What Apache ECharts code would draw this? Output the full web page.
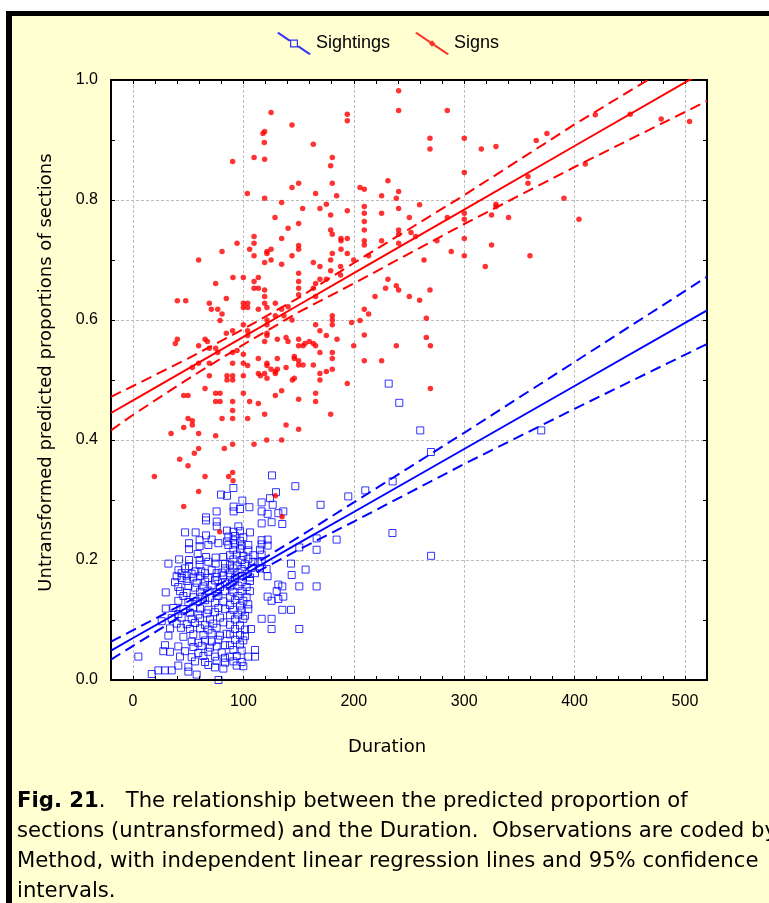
<!DOCTYPE html>
<html>
<head>
<meta charset="utf-8">
<title>Predicted proportion of sections vs Duration</title>
<script src="https://cdn.jsdelivr.net/npm/echarts/dist/echarts.min.js"></script>
<style>
  html, body { margin: 0; padding: 0; background: #ffffff; overflow: hidden; }
  #panel {
    position: absolute; left: 6px; top: 11px; width: 820px; height: 960px;
    box-sizing: border-box; border-left: 6px solid #000; border-top: 5px solid #000;
    background: #FFFFD2;
  }
  #chart { position: absolute; left: 0; top: 0; width: 769px; height: 903px; }
</style>
</head>
<body>
<div id="panel"></div>
<div id="chart"></div>
<script>
// ---- Observations: [Duration, untransformed predicted proportion] ----
const sightingsPoints = [
  [39.5,0.173],[44.0,0.170],[48.6,0.174],[54.6,0.171],[60.7,0.173],[68.2,0.170],[75.7,0.172],[81.8,0.174],
  [38.0,0.163],[48.6,0.165],[57.6,0.162],[65.2,0.164],[74.2,0.166],[83.3,0.163],
  [41.0,0.155],[50.1,0.157],[56.1,0.154],[63.7,0.156],[71.2,0.158],[78.8,0.155],
  [29.6,0.146],[42.5,0.148],[48.6,0.145],[60.7,0.147],[68.2,0.149],[75.7,0.146],[83.3,0.148],
  [45.6,0.140],[54.6,0.138],[62.2,0.139],[69.7,0.137],[77.3,0.140],
  [41.0,0.132],[50.1,0.130],[57.6,0.131],[65.2,0.133],[74.2,0.129],[81.8,0.131],
  [29.6,0.119],[36.5,0.120],[45.6,0.118],[54.6,0.121],[60.7,0.119],[68.2,0.117],[77.3,0.120],[83.3,0.118],
  [41.0,0.110],[51.6,0.112],[59.1,0.109],[66.7,0.111],[74.2,0.113],
  [25.9,0.098],[35.0,0.103],[44.0,0.104],[53.1,0.102],[60.7,0.103],[69.7,0.101],[78.8,0.104],
  [39.5,0.094],[48.6,0.093],[56.1,0.095],[65.2,0.092],[72.7,0.094],[81.8,0.096],
  [33.5,0.086],[43.4,0.087],[51.6,0.085],[60.7,0.086],[68.2,0.084],[75.7,0.087],
  [32.0,0.074],[45.6,0.072],[54.6,0.076],[63.7,0.075],[71.2,0.078],[78.8,0.074],[84.8,0.077],
  [53.1,0.064],[59.1,0.062],[65.2,0.066],[71.2,0.064],[77.3,0.067],
  [28.9,0.058],[41.0,0.056],[54.6,0.055],[62.2,0.057],[69.7,0.054],[75.7,0.056],[83.3,0.058],
  [27.4,0.048],[33.5,0.047],[47.1,0.048],[59.1,0.045],[68.2,0.047],[80.3,0.046],
  [4.8,0.039],[42.5,0.039],[53.1,0.038],[63.7,0.040],[74.2,0.039],[83.3,0.037],
  [56.1,0.031],[65.2,0.030],[75.7,0.032],[83.3,0.029],
  [41.0,0.024],[50.1,0.022],[68.2,0.025],[74.2,0.021],[81.8,0.019],
  [16.9,0.010],[22.9,0.016],[28.9,0.016],[35.0,0.016],[50.1,0.014],
  [57.6,0.009],[77.4,0.000],
  [87.8,0.172],[92.4,0.170],[98.4,0.173],[105.9,0.171],[121.9,0.173],[143.7,0.175],
  [90.9,0.164],[98.4,0.163],[105.9,0.165],[131.6,0.159],
  [87.8,0.156],[95.4,0.157],[102.9,0.155],[135.2,0.156],[150.6,0.156],[166.3,0.156],
  [90.9,0.147],[98.4,0.148],[105.9,0.148],[121.9,0.139],[130.1,0.148],
  [87.8,0.139],[95.4,0.140],[102.9,0.138],[136.1,0.139],
  [92.4,0.133],[99.9,0.132],[125.5,0.132],[131.6,0.135],
  [87.8,0.125],[96.9,0.124],[104.4,0.126],
  [90.9,0.117],[98.4,0.116],[104.4,0.118],[135.2,0.117],[143.1,0.117],
  [87.8,0.108],[95.4,0.109],[101.4,0.107],
  [92.4,0.101],[99.9,0.102],[116.5,0.102],[125.5,0.102],
  [87.8,0.092],[96.9,0.091],
  [92.4,0.085],[101.4,0.084],[106.9,0.085],[125.5,0.085],[150.6,0.085],
  [87.8,0.076],[96.9,0.075],[101.4,0.073],
  [92.4,0.067],[99.9,0.066],
  [87.8,0.058],[96.9,0.059],
  [90.9,0.050],[98.4,0.049],[110.5,0.050],
  [87.8,0.039],[93.9,0.040],[104.4,0.039],[110.5,0.039],
  [90.9,0.031],[98.4,0.030],
  [93.9,0.024],[99.9,0.023],
  [79.7,0.309],[85.1,0.307],[75.7,0.281],[66.1,0.271],[66.1,0.266],[75.8,0.264],[75.8,0.256],[85.1,0.249],
  [47.1,0.246],[56.7,0.246],[66.1,0.241],[60.3,0.233],[71.2,0.234],[50.7,0.228],[77.3,0.228],[60.3,0.223],
  [50.7,0.218],[68.2,0.225],[85.1,0.231],[32.0,0.194],[41.7,0.201],[50.7,0.200],[50.7,0.190],[58.5,0.210],
  [60.3,0.200],[60.3,0.192],[66.1,0.205],[68.2,0.197],[74.8,0.204],[74.8,0.194],[81.8,0.205],[83.3,0.194],
  [41.1,0.183],[47.1,0.186],[56.4,0.181],[61.8,0.181],[71.2,0.183],[75.7,0.178],[83.3,0.186],
  [44.0,0.178],[53.1,0.177],[65.2,0.178],[80.3,0.179],
  [90.9,0.247],[96.9,0.248],[105.9,0.246],
  [86.3,0.239],[92.4,0.240],[99.9,0.238],
  [90.9,0.233],[96.9,0.232],[116.5,0.233],[121.9,0.234],
  [86.3,0.225],[92.4,0.226],[98.4,0.224],[104.4,0.225],[116.5,0.226],[121.9,0.224],
  [90.9,0.217],[96.9,0.218],[104.4,0.216],[115.0,0.217],
  [87.8,0.208],[93.9,0.209],[99.9,0.207],[108.9,0.208],[116.5,0.209],
  [90.9,0.201],[98.4,0.200],[104.4,0.202],
  [108.9,0.197],[113.5,0.196],[116.5,0.198],
  [87.8,0.192],[93.9,0.191],[101.4,0.193],
  [90.9,0.186],[98.4,0.185],[107.4,0.187],[115.0,0.186],[121.0,0.185],
  [87.8,0.178],[95.4,0.179],[102.9,0.177],[110.5,0.178],
  [125.9,0.341],[147.0,0.323],[90.9,0.320],[129.5,0.313],[124.1,0.303],[99.0,0.299],[105.4,0.288],
  [116.5,0.296],[126.5,0.292],[91.1,0.289],[91.1,0.281],[96.9,0.285],[116.5,0.281],[121.9,0.277],
  [131.6,0.278],[136.1,0.281],[169.9,0.292],[116.5,0.261],[125.5,0.263],[135.2,0.260],[95.4,0.256],
  [166.3,0.236],[150.6,0.221],[166.3,0.217],[184.4,0.234],[143.1,0.194],[156.3,0.184],
  [231.6,0.494],[241.2,0.462],[260.2,0.416],[269.9,0.380],[369.8,0.416],[235.2,0.331],
  [210.4,0.316],[195.0,0.306],[235.0,0.245],[270.0,0.207]
];

const signsPoints = [
  [125.0,0.946],[144.0,0.925],[194.1,0.943],[194.1,0.932],[117.7,0.911],[119.2,0.914],[118.9,0.896],
  [163.3,0.893],[90.2,0.864],[109.6,0.871],[119.2,0.868],[180.5,0.871],[179.0,0.857],[144.0,0.821],
  [150.0,0.828],[180.5,0.828],[103.5,0.811],[119.2,0.803],[165.4,0.811],[184.4,0.807],[134.6,0.796],
  [153.6,0.786],[169.3,0.786],[175.1,0.793],[179.0,0.775],[194.1,0.782],[128.6,0.771],[140.4,0.753],
  [150.0,0.761],[179.0,0.750],[180.5,0.743],[109.6,0.739],[109.6,0.728],[134.6,0.736],[94.2,0.728],
  [188.4,0.736],[188.4,0.732],[194.1,0.736],[150.0,0.724],[150.0,0.718],[105.6,0.718],[121.3,0.714],
  [121.3,0.711],[125.0,0.718],[80.6,0.714],[109.6,0.707],[144.0,0.707],[180.5,0.711],[188.4,0.718],
  [194.1,0.711],[59.4,0.700],[119.2,0.696],[125.0,0.700],[134.6,0.693],[163.3,0.696],[169.3,0.689],
  [179.0,0.700],[90.5,0.671],[99.9,0.671],[113.5,0.671],[109.6,0.664],[150.0,0.678],[150.0,0.664],
  [165.4,0.661],[169.3,0.668],[175.1,0.668],[179.0,0.682],[74.8,0.661],[109.6,0.653],[113.5,0.653],
  [150.0,0.653],[163.3,0.653],[188.0,0.689],[188.0,0.675],
  [240.6,0.982],[240.6,0.949],[284.7,0.949],[269.0,0.903],[269.0,0.885],[300.1,0.903],[315.5,0.885],
  [328.8,0.889],[365.3,0.899],[375.0,0.911],[300.1,0.846],[230.9,0.832],[205.6,0.821],[209.5,0.818],
  [225.2,0.807],[240.6,0.814],[238.5,0.803],[209.5,0.789],[209.5,0.778],[209.5,0.764],[209.5,0.750],
  [209.5,0.732],[209.5,0.725],[240.6,0.786],[259.6,0.792],[225.2,0.778],[250.3,0.771],[284.7,0.771],
  [240.6,0.750],[240.6,0.743],[240.6,0.728],[251.8,0.746],[256.0,0.739],[275.3,0.732],[225.2,0.732],
  [300.1,0.778],[300.1,0.768],[300.1,0.736],[300.1,0.707],[328.8,0.793],[328.8,0.789],[324.8,0.775],
  [340.2,0.771],[324.8,0.725],[357.8,0.839],[357.8,0.828],[390.4,0.803],[404.0,0.768],[359.6,0.707],
  [319.1,0.689],[288.3,0.714],[263.6,0.700],[213.4,0.707],[199.9,0.700],[230.9,0.668],[228.8,0.653],
  [238.5,0.657],[240.6,0.650],[219.2,0.639],[250.3,0.639],[259.6,0.633],[269.0,0.650],
  [209.5,0.618],[213.4,0.610],[198.0,0.596],[205.6,0.599],[265.7,0.603],[209.5,0.575],[199.9,0.557],
  [238.5,0.557],[265.7,0.571],[269.4,0.557],[209.5,0.532],[225.2,0.532],[194.1,0.494],[269.4,0.486],
  [40.1,0.632],[47.7,0.632],[84.5,0.636],[69.1,0.628],[70.9,0.618],[76.7,0.618],[80.6,0.610],[78.8,0.599],
  [99.9,0.628],[103.8,0.628],[99.9,0.621],[103.8,0.621],[113.5,0.618],[119.2,0.639],[119.2,0.650],
  [119.2,0.628],[121.3,0.621],[128.9,0.628],[134.6,0.618],[140.4,0.622],[150.0,0.642],[165.4,0.639],
  [99.9,0.592],[121.3,0.600],[121.3,0.592],[128.9,0.607],[136.7,0.607],[144.0,0.600],[165.4,0.592],
  [180.5,0.607],[180.5,0.600],[180.5,0.592],[169.3,0.582],[175.1,0.574],[184.8,0.568],[84.5,0.578],
  [90.2,0.582],[103.8,0.582],[103.8,0.574],[121.3,0.578],[121.3,0.574],[119.2,0.564],[130.7,0.568],
  [138.6,0.571],[140.4,0.564],[150.0,0.568],[150.0,0.557],[154.0,0.557],[155.8,0.561],[159.7,0.564],
  [163.3,0.561],[165.4,0.557],[169.3,0.546],[180.5,0.546],[40.1,0.568],[38.3,0.561],[65.2,0.568],
  [67.3,0.564],[59.4,0.557],[69.1,0.553],[74.8,0.553],[76.7,0.546],[90.2,0.546],[94.2,0.549],
  [99.9,0.543],[59.4,0.528],[69.1,0.528],[53.7,0.521],[90.2,0.528],[99.9,0.528],[103.8,0.524],
  [113.5,0.536],[121.3,0.528],[121.3,0.524],[125.0,0.518],[128.9,0.511],[130.7,0.536],[130.7,0.518],
  [138.6,0.521],[146.1,0.539],[146.1,0.536],[150.0,0.532],[150.0,0.525],[154.0,0.525],[163.3,0.525],
  [169.3,0.511],[169.3,0.500],[175.1,0.514],[180.5,0.536],[180.5,0.518],[113.5,0.511],[115.4,0.507],
  [119.2,0.511],[121.3,0.503],[128.9,0.514],[69.1,0.507],[85.1,0.507],[85.1,0.500],[90.2,0.507],
  [90.2,0.500],[99.9,0.507],[144.3,0.500],[146.1,0.503],[65.2,0.486],[74.8,0.478],[78.8,0.478],
  [74.8,0.464],[78.8,0.464],[90.2,0.464],[90.2,0.449],[99.9,0.478],[105.6,0.464],[113.5,0.461],
  [128.9,0.474],[134.6,0.482],[150.0,0.468],[165.4,0.478],[165.4,0.464],[45.9,0.474],[49.8,0.474],
  [49.8,0.436],[53.7,0.432],[53.7,0.425],[45.9,0.421],[34.4,0.411],[59.4,0.411],[74.8,0.407],
  [80.6,0.436],[90.2,0.436],[103.8,0.436],[119.2,0.443],[138.6,0.425],[150.0,0.418],[179.0,0.443],
  [121.1,0.400],[134.6,0.400],[90.2,0.393],[109.6,0.393],[82.7,0.386],[59.4,0.386],[55.5,0.378],
  [42.2,0.368],[49.8,0.357],[19.3,0.339],[65.2,0.339],[90.2,0.346],[86.6,0.339],[59.4,0.314],
  [128.9,0.307],[45.9,0.289],[135.0,0.272],[78.5,0.247],[90.6,0.332],
  [418.8,0.942],[450.4,0.943],[478.5,0.935],[504.2,0.931],[409.7,0.860]
];

// ---- Regression lines and 95% confidence limits, by Duration ----
const fitDuration     = [-20, 0, 50, 100, 150, 200, 300, 400, 520];
const sightingsFit    = [0.049, 0.070, 0.122, 0.175, 0.228, 0.280, 0.385, 0.490, 0.616];
const sightingsUpper  = [0.064, 0.083, 0.131, 0.182, 0.238, 0.296, 0.412, 0.530, 0.672];
const sightingsLower  = [0.034, 0.057, 0.114, 0.168, 0.217, 0.264, 0.360, 0.452, 0.560];
const signsFit        = [0.445, 0.466, 0.519, 0.572, 0.625, 0.678, 0.784, 0.890, 1.017];
const signsUpper      = [0.472, 0.490, 0.536, 0.585, 0.637, 0.695, 0.808, 0.926, 1.060];
const signsLower      = [0.416, 0.442, 0.502, 0.559, 0.613, 0.661, 0.760, 0.855, 0.965];

// ---- Text ----
const seriesNames = ['Sightings', 'Signs'];
const xTitle = 'Duration';
const yTitle = 'Untransformed predicted proportions of sections';
const captionLines = [
  '{b|Fig. 21}.   The relationship between the predicted proportion of',
  'sections (untransformed) and the Duration.  Observations are coded by',
  'Method, with independent linear regression lines and 95% confidence',
  'intervals.'
];

const BLUE = '#0000FF';
const RED = '#FF0000';
const tickFont = 'Liberation Sans';
const titleFont = 'DejaVu Sans';

function zipXY(xs, ys) { return xs.map((x, i) => [x, ys[i]]); }

// legend glyphs: a diagonal stroke with the series marker in its middle
const sightIcon = 'path://M0,1.3L1.8,0L13.9,8.15L12.1,9.45Z M21.9,13.55L34,21.7L32.2,23L20.1,14.85Z ' +
                  'M13,7.5L21,7.5L21,15.5L13,15.5Z M14.2,8.7L14.2,14.3L19.8,14.3L19.8,8.7Z';
const signIcon  = 'path://M0,1.3L1.8,0L34,21.7L32.2,23Z M17,8.3L20.2,11.5L17,14.7L13.8,11.5Z';

const frameLine = { show: true, onZero: false, lineStyle: { color: '#000', width: 2 } };
const frameTick = { show: true, inside: true, length: 4, lineStyle: { color: '#000', width: 1 } };
const gridDash  = { show: true, lineStyle: { color: '#BDBDBD', width: 1, type: [3, 2] } };
const hidden    = { show: false };

function fitLine(name, values, color, dashed) {
  return {
    name: name, type: 'line', data: zipXY(fitDuration, values),
    xAxisIndex: 0, yAxisIndex: 0,
    showSymbol: false, symbol: 'none', silent: true, clip: true, z: 4,
    lineStyle: { color: color, width: 2, type: dashed ? [11, 6] : 'solid' }
  };
}

const chart = echarts.init(document.getElementById('chart'), null, { renderer: 'canvas', width: 769, height: 903 });

chart.setOption({
  animation: false,
  backgroundColor: 'transparent',
  grid: { left: 111, top: 80, width: 596, height: 600, show: true, backgroundColor: '#ffffff', borderWidth: 0 },
  legend: {
    left: 277, top: 32, padding: 0, itemWidth: 34, itemHeight: 23, itemGap: 25, selectedMode: false,
    textStyle: { fontFamily: tickFont, fontSize: 18, color: '#000' },
    data: [
      { name: seriesNames[0], icon: sightIcon, itemStyle: { color: BLUE, borderWidth: 0 } },
      { name: seriesNames[1], icon: signIcon, itemStyle: { color: RED, borderWidth: 0 } }
    ]
  },
  xAxis: [
    {
      type: 'value', position: 'bottom', min: -20, max: 520, interval: 20, z: 3,
      axisLine: frameLine, axisTick: frameTick, splitLine: hidden,
      axisLabel: { show: true, margin: 14, color: '#000', fontFamily: tickFont, fontSize: 16,
                   formatter: v => (v % 100 === 0 ? String(v) : '') },
      name: xTitle, nameLocation: 'middle', nameGap: 58,
      nameTextStyle: { fontFamily: titleFont, fontSize: 18, color: '#000', padding: [0, 44, 0, 0] }
    },
    {
      type: 'value', position: 'top', min: -20, max: 520, interval: 20, z: 3,
      axisLine: frameLine, axisTick: frameTick, splitLine: hidden, axisLabel: hidden
    },
    {
      type: 'value', position: 'bottom', min: -20, max: 520, splitNumber: 5,
      axisLine: hidden, axisTick: hidden, axisLabel: hidden, splitLine: gridDash
    }
  ],
  yAxis: [
    {
      type: 'value', position: 'left', min: 0, max: 1, interval: 0.1, z: 3,
      axisLine: frameLine, axisTick: frameTick, splitLine: hidden,
      axisLabel: { show: true, margin: 13, color: '#000', fontFamily: tickFont, fontSize: 16,
                   formatter: v => (Math.round(v * 10) % 2 === 0 ? v.toFixed(1) : '') },
      name: yTitle, nameLocation: 'middle', nameRotate: 90, nameGap: 56,
      nameTextStyle: { fontFamily: titleFont, fontSize: 18, color: '#000', padding: [0, 0, 0, 15] }
    },
    {
      type: 'value', position: 'right', min: 0, max: 1, interval: 0.1, z: 3,
      axisLine: frameLine, axisTick: frameTick, splitLine: hidden, axisLabel: hidden
    },
    {
      type: 'value', position: 'left', min: 0, max: 1, interval: 0.2,
      axisLine: hidden, axisTick: hidden, axisLabel: hidden, splitLine: gridDash
    }
  ],
  series: [
    {
      name: seriesNames[0], type: 'scatter', data: sightingsPoints, xAxisIndex: 0, yAxisIndex: 0,
      symbol: 'rect', symbolSize: 7, z: 2, silent: true,
      itemStyle: { color: 'rgba(0,0,0,0)', borderColor: BLUE, borderWidth: 1 }
    },
    {
      name: seriesNames[1], type: 'scatter', data: signsPoints, xAxisIndex: 0, yAxisIndex: 0,
      symbol: 'circle', symbolSize: 5.5, z: 3, silent: true,
      itemStyle: { color: RED }
    },
    fitLine('Sightings fit', sightingsFit, BLUE, false),
    fitLine('Sightings upper 95%', sightingsUpper, BLUE, true),
    fitLine('Sightings lower 95%', sightingsLower, BLUE, true),
    fitLine('Signs fit', signsFit, RED, false),
    fitLine('Signs upper 95%', signsUpper, RED, true),
    fitLine('Signs lower 95%', signsLower, RED, true)
  ],
  graphic: captionLines.map((line, i) => ({
    type: 'text', x: 17, y: 801 + i * 30, silent: true,
    style: {
      text: line, fontFamily: titleFont, fontSize: 21.2, fill: '#000', verticalAlign: 'middle',
      rich: { b: { fontFamily: titleFont, fontSize: 21.2, fontWeight: 'bold', fill: '#000' } }
    }
  }))
});
</script>
</body>
</html>
